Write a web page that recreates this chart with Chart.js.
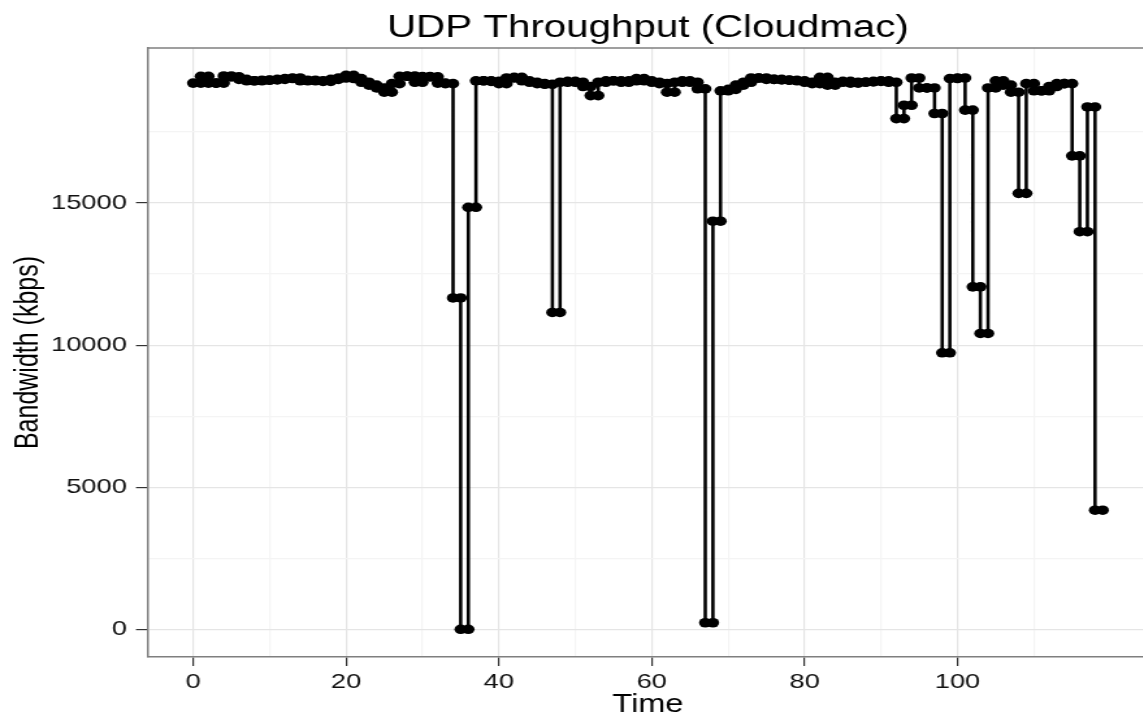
<!DOCTYPE html>
<html>
<head>
<meta charset="utf-8">
<title>UDP Throughput (Cloudmac)</title>
<script src="https://cdn.jsdelivr.net/npm/chart.js@4/dist/chart.umd.min.js"></script>
<style>
  html, body { margin: 0; padding: 0; background: #fff; }
  #wrap { width: 1143px; height: 715px; overflow: hidden; position: relative; }
  /* the original figure is stretched horizontally, so the canvas is too */
  #chart { transform: scaleX(1.3); transform-origin: 0 0; }
</style>
</head>
<body>
<div id="wrap">
  <canvas id="chart" width="888" height="715"></canvas>
</div>
<script>
// Bandwidth (kbps) measured in each 1 s interval, starting at time 0
const bandwidth = [
  19220, 19460, 19220, 19220, 19470, 19440, 19350, 19300, 19300, 19320,
  19330, 19350, 19380, 19400, 19300, 19320, 19300, 19280, 19350, 19400,
  19490, 19380, 19250, 19150, 19050, 18900, 19200, 19460, 19470, 19250,
  19450, 19440, 19220, 19200, 11660, 0, 14850, 19300, 19300, 19280,
  19200, 19400, 19420, 19300, 19250, 19200, 19180, 11150, 19250, 19280,
  19250, 19100, 18780, 19250, 19300, 19300, 19250, 19300, 19380, 19300,
  19250, 19200, 18900, 19250, 19300, 19250, 19020, 230, 14360, 18950,
  19000, 19150, 19250, 19400, 19400, 19350, 19350, 19330, 19320, 19300,
  19250, 19200, 19420, 19150, 19250, 19280, 19220, 19250, 19260, 19280,
  19300, 19250, 17970, 18440, 19400, 19050, 19050, 18150, 9730, 19380,
  19400, 18270, 12050, 10410, 19050, 19300, 19150, 18900, 15340, 19200,
  18950, 18950, 19100, 19200, 19200, 16660, 13990, 18380, 4190
];
const intervalLength = 1;

// Axis breaks
const xMajorTicks = [0, 20, 40, 60, 80, 100];
const xMinorTicks = [10, 30, 50, 70, 90, 110];
const yMajorTicks = [0, 5000, 10000, 15000];
const yMinorTicks = [2500, 7500, 12500, 17500];

// Each interval is drawn as a flat step with a point at both ends
const points = [];
bandwidth.forEach((v, i) => {
  const start = i * intervalLength;
  points.push({ x: start, y: v }, { x: start + intervalLength, y: v });
});

function setTicks(majors, minors) {
  return scale => {
    scale.ticks = majors.concat(minors).sort((a, b) => a - b).map(v => ({ value: v }));
  };
}
function gridColor(majors) {
  return ctx => (ctx.tick && majors.includes(ctx.tick.value)) ? '#e5e5e5' : '#f4f4f4';
}
function tickColor(majors) {
  return ctx => (ctx.tick && majors.includes(ctx.tick.value)) ? '#333333' : 'rgba(0,0,0,0)';
}

// Top edge of the panel (left and bottom come from the axis borders)
const panelTop = {
  id: 'panelTop',
  afterDraw(chart) {
    const { ctx, chartArea } = chart;
    ctx.save();
    ctx.strokeStyle = '#7f7f7f';
    ctx.lineWidth = 1.5;
    ctx.beginPath();
    ctx.moveTo(chartArea.left, chartArea.top);
    ctx.lineTo(chartArea.right, chartArea.top);
    ctx.stroke();
    ctx.restore();
  }
};

Chart.defaults.font.family = '"Liberation Sans", Arial, Helvetica, sans-serif';
Chart.defaults.color = '#000';

new Chart(document.getElementById('chart'), {
  type: 'scatter',
  data: {
    datasets: [{
      data: points,
      showLine: true,
      borderColor: '#000',
      borderWidth: 2.6,
      backgroundColor: '#000',
      pointRadius: 4.8,
      pointBorderWidth: 0,
      pointHoverRadius: 4.8
    }]
  },
  options: {
    responsive: false,
    devicePixelRatio: 1,
    animation: false,
    layout: { padding: 0 },
    plugins: {
      legend: { display: false },
      tooltip: { enabled: false },
      title: {
        display: true,
        text: 'UDP Throughput (Cloudmac)',
        fullSize: false,
        color: '#000',
        font: { size: 31, weight: 'normal', lineHeight: 1.2 },
        padding: { top: 10, bottom: 0.8 }
      }
    },
    scales: {
      x: {
        type: 'linear',
        min: -5.95,
        max: 124.95,
        afterBuildTicks: setTicks(xMajorTicks, xMinorTicks),
        afterFit: scale => { scale.height = 58; },
        grid: {
          color: gridColor(xMajorTicks),
          tickColor: tickColor(xMajorTicks),
          lineWidth: 1.2,
          tickWidth: 1.2,
          tickLength: 9
        },
        border: { color: '#7f7f7f', width: 1.5 },
        ticks: {
          autoSkip: false,
          maxRotation: 0,
          padding: 4,
          color: '#111',
          font: { size: 21 },
          callback: v => xMajorTicks.includes(v) ? String(v) : ''
        },
        title: {
          display: true,
          text: 'Time',
          color: '#000',
          font: { size: 25, lineHeight: 0.76 },
          padding: 0
        }
      },
      y: {
        type: 'linear',
        min: -975,
        max: 20455,
        afterBuildTicks: setTicks(yMajorTicks, yMinorTicks),
        afterFit: scale => { scale.width = 113.6; },
        grid: {
          color: gridColor(yMajorTicks),
          tickColor: tickColor(yMajorTicks),
          lineWidth: 1.2,
          tickWidth: 1.2,
          tickLength: 9
        },
        border: { color: '#7f7f7f', width: 1.5 },
        ticks: {
          autoSkip: false,
          padding: 7,
          color: '#111',
          font: { size: 21 },
          callback: v => yMajorTicks.includes(v) ? String(v) : ''
        },
        title: {
          display: true,
          text: 'Bandwidth (kbps)',
          color: '#000',
          font: { size: 25 },
          padding: { top: 7, bottom: 0 }
        }
      }
    }
  },
  plugins: [panelTop]
});
</script>
</body>
</html>
